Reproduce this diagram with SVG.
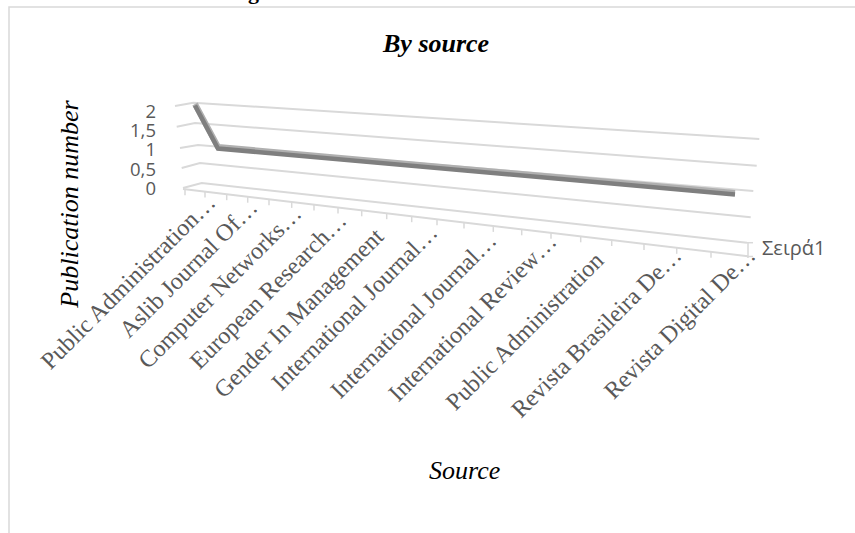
<svg xmlns="http://www.w3.org/2000/svg" width="855" height="533" viewBox="0 0 855 533">
<style>
.frame{fill:none;stroke:#d9d9d9;stroke-width:1.5}
.grid{fill:none;stroke:#d9d9d9;stroke-width:2}
.tick{stroke:#d9d9d9;stroke-width:1.5}
.ylab{font-family:"Open Sans","Noto Sans",sans-serif;font-size:18.5px;fill:#595959;text-anchor:end}
.cat{font-family:"Liberation Serif",serif;font-size:24px;fill:#595959;text-anchor:end}
.ttl{font-family:"Liberation Serif",serif;font-style:italic;fill:#000}
</style>
<rect width="855" height="533" fill="#fff"/>
<text x="248" y="-1" font-family="Liberation Serif,serif" font-weight="bold" font-size="22" fill="#000">g</text>
<path class="frame" d="M9,533 V7 H855"/>
<g id="title"><text class="ttl" x="383" y="52" font-size="26" font-weight="bold">By source</text></g>
<g id="y-title"><text class="ttl" transform="translate(78,204) rotate(-90)" text-anchor="middle" font-size="26">Publication number</text></g>
<g id="x-title"><text class="ttl" x="429" y="479" font-size="26">Source</text></g>
<g id="gridlines">
<polyline class="grid" points="175,106 193.3,102.7 759.3,139"/>
<polyline class="grid" points="176.7,126.7 195,123 756.7,165.7"/>
<polyline class="grid" points="180,148 198,145 753.3,191"/>
<polyline class="grid" points="181.7,168 200,163 750.7,217.3"/>
<polyline class="grid" points="183,188 201.7,183 747,242.7"/>
<line class="grid" x1="183" y1="189" x2="748" y2="256.2"/>
<line class="tick" x1="748" y1="242.7" x2="748" y2="258"/>
<line class="tick" x1="747" y1="242.7" x2="753" y2="242.7"/>
<line class="tick" x1="747" y1="256.5" x2="753" y2="256.5"/>
</g>
<g id="x-ticks">
<line class="tick" x1="185" y1="189.2" x2="185" y2="195.2"/>
<line class="tick" x1="205" y1="191.6" x2="205" y2="197.6"/>
<line class="tick" x1="226.7" y1="194.2" x2="226.7" y2="200.2"/>
<line class="tick" x1="247.7" y1="196.7" x2="247.7" y2="202.7"/>
<line class="tick" x1="269" y1="199.2" x2="269" y2="205.2"/>
<line class="tick" x1="291.7" y1="201.9" x2="291.7" y2="207.9"/>
<line class="tick" x1="314" y1="204.6" x2="314" y2="210.6"/>
<line class="tick" x1="338" y1="207.4" x2="338" y2="213.4"/>
<line class="tick" x1="361.7" y1="210.3" x2="361.7" y2="216.3"/>
<line class="tick" x1="386.7" y1="213.2" x2="386.7" y2="219.2"/>
<line class="tick" x1="411.7" y1="216.2" x2="411.7" y2="222.2"/>
<line class="tick" x1="437" y1="219.2" x2="437" y2="225.2"/>
<line class="tick" x1="464" y1="222.4" x2="464" y2="228.4"/>
<line class="tick" x1="493.3" y1="225.9" x2="493.3" y2="231.9"/>
<line class="tick" x1="521.7" y1="229.3" x2="521.7" y2="235.3"/>
<line class="tick" x1="551" y1="232.8" x2="551" y2="238.8"/>
<line class="tick" x1="580.7" y1="236.3" x2="580.7" y2="242.3"/>
<line class="tick" x1="611.7" y1="240" x2="611.7" y2="246"/>
<line class="tick" x1="644" y1="243.9" x2="644" y2="249.9"/>
<line class="tick" x1="676.7" y1="247.8" x2="676.7" y2="253.8"/>
<line class="tick" x1="711" y1="251.8" x2="711" y2="257.8"/>
</g>
<g id="y-labels">
<text class="ylab" x="156" y="117.5">2</text>
<text class="ylab" x="156" y="136.5">1,5</text>
<text class="ylab" x="156" y="156">1</text>
<text class="ylab" x="156" y="175.5">0,5</text>
<text class="ylab" x="156" y="195">0</text>
</g>
<g id="series-label"><text x="762" y="255" font-family="Open Sans,Noto Sans,sans-serif" font-size="20" fill="#595959">Σειρά1</text></g>
<g id="category-labels">
<text class="cat" transform="translate(217,204) rotate(-45)">Public Administration…</text>
<text class="cat" transform="translate(259,209) rotate(-45)">Aslib Journal Of…</text>
<text class="cat" transform="translate(303,215) rotate(-45)">Computer Networks…</text>
<text class="cat" transform="translate(348,222) rotate(-45)">European Research…</text>
<text class="cat" transform="translate(385,238) rotate(-45)">Gender In Management</text>
<text class="cat" transform="translate(439,234) rotate(-45)">International Journal…</text>
<text class="cat" transform="translate(498,242) rotate(-45)">International Journal…</text>
<text class="cat" transform="translate(558,243) rotate(-45)">International Review…</text>
<text class="cat" transform="translate(605,262) rotate(-45)">Public Administration</text>
<text class="cat" transform="translate(683,257) rotate(-45)">Revista Brasileira De…</text>
<text class="cat" transform="translate(757,257) rotate(-45)">Revista Digital De…</text>
</g>
<g id="connectors">
<polyline points="195,104 218,147 735,193" fill="none" stroke="#b0b0b0" stroke-width="6" stroke-linejoin="round"/>
<polyline points="195,105.5 218,148.5 735,194.5" fill="none" stroke="#7f7f7f" stroke-width="4.5" stroke-linejoin="miter"/>
</g>
</svg>
